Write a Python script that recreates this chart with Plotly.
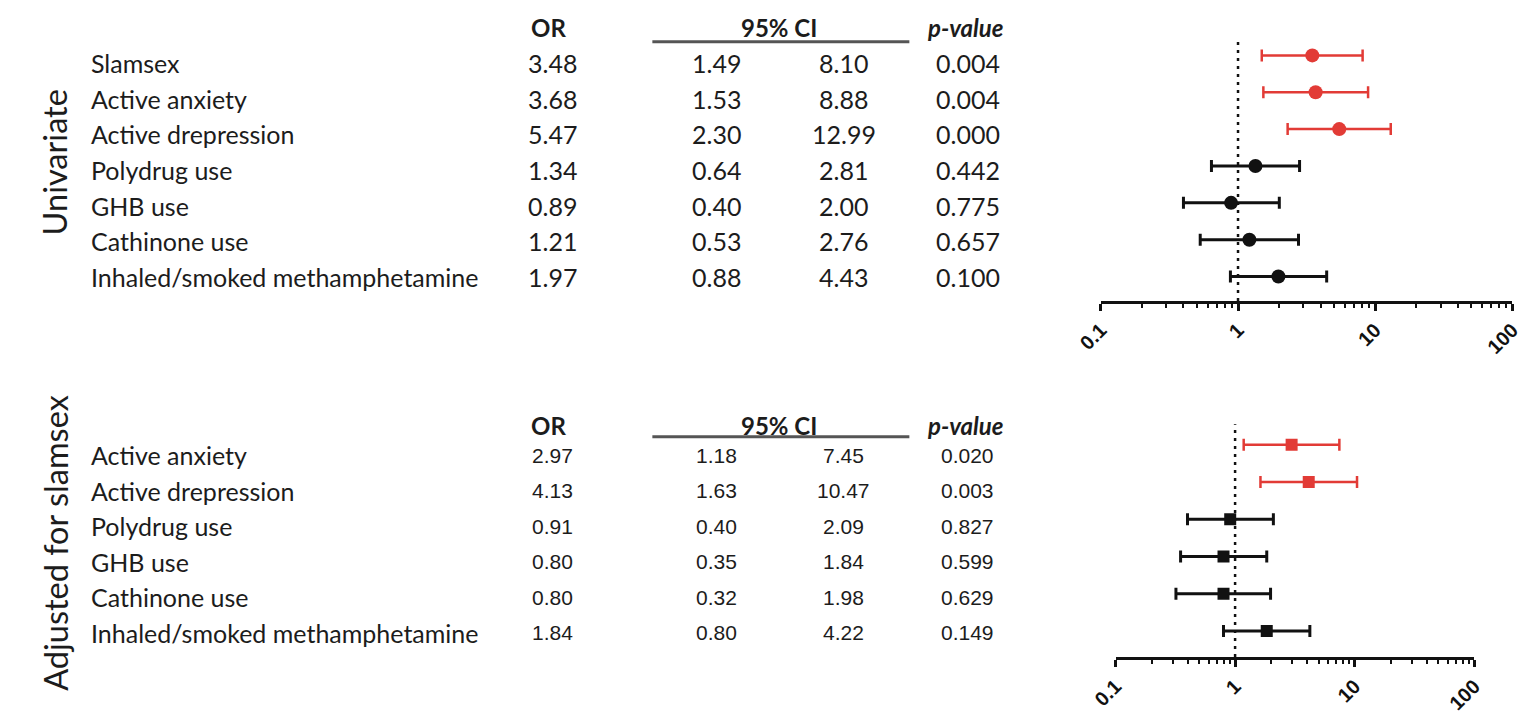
import plotly.graph_objects as go

W, H = 1535, 714

# ---- data: univariate model ----
uni_labels = ["Slamsex", "Active anxiety", "Active drepression", "Polydrug use",
              "GHB use", "Cathinone use", "Inhaled/smoked methamphetamine"]
uni_or = [3.48, 3.68, 5.47, 1.34, 0.89, 1.21, 1.97]
uni_lo = [1.49, 1.53, 2.30, 0.64, 0.40, 0.53, 0.88]
uni_hi = [8.10, 8.88, 12.99, 2.81, 2.00, 2.76, 4.43]
uni_p = [0.004, 0.004, 0.000, 0.442, 0.775, 0.657, 0.100]

# ---- data: model adjusted for slamsex ----
adj_labels = ["Active anxiety", "Active drepression", "Polydrug use",
              "GHB use", "Cathinone use", "Inhaled/smoked methamphetamine"]
adj_or = [2.97, 4.13, 0.91, 0.80, 0.80, 1.84]
adj_lo = [1.18, 1.63, 0.40, 0.35, 0.32, 0.80]
adj_hi = [7.45, 10.47, 2.09, 1.84, 1.98, 4.22]
adj_p = [0.020, 0.003, 0.827, 0.599, 0.629, 0.149]

axis_ticks = [0.1, 1, 10, 100]
axis_ticktext = ["0.1", "1", "10", "100"]
minor_ticks = [m * d for d in (0.1, 1, 10) for m in range(2, 10)]

RED = "#e23b36"
BLACK = "#111111"
TXT = "#1c1c1c"
LABEL_FONT = "Lato"
NUM_FONT_ADJ = "Liberation Sans"


def px(x):
    return x / W


def py(y):
    return 1 - y / H


fig = go.Figure()
annotations = []
shapes = []


def add_text(x, y, text, size, family=LABEL_FONT, anchor="center", angle=0):
    annotations.append(dict(
        x=px(x), y=py(y), xref="paper", yref="paper", text=text,
        showarrow=False, xanchor=anchor, yanchor="middle", textangle=angle,
        font=dict(family=family, size=size, color=TXT),
    ))


def add_table(header_y, rule_y, row0, step, labels, ors, los, his, ps, num_font, num_size):
    add_text(516, header_y, "<b>OR</b>", 24, anchor="left")
    add_text(772, header_y, "<b>95% CI</b>", 24)
    add_text(962, header_y, "<b><i>p-value</i></b>", 24)
    shapes.append(dict(type="line", xref="paper", yref="paper",
                       x0=px(642), x1=px(905), y0=py(rule_y), y1=py(rule_y),
                       line=dict(color="#555555", width=3)))
    for i, lab in enumerate(labels):
        y = row0 + step * i
        add_text(66, y, lab, 25, anchor="left")
        add_text(540, y, f"{ors[i]:.2f}", num_size, family=num_font)
        add_text(708, y, f"{los[i]:.2f}", num_size, family=num_font)
        add_text(838, y, f"{his[i]:.2f}", num_size, family=num_font)
        add_text(965, y, f"{ps[i]:.3f}", num_size, family=num_font)


add_table(28, 43, 65, 36.7, uni_labels, uni_or, uni_lo, uni_hi, uni_p, LABEL_FONT, 25)
add_table(438, 450, 469, 36.6, adj_labels, adj_or, adj_lo, adj_hi, adj_p, NUM_FONT_ADJ, 21)

add_text(30, 167, "Univariate", 32.5, angle=-90)
add_text(31, 559, "Adjusted for slamsex", 32.5, angle=-90)


def add_forest(xa, ya, ors, los, his, ps, symbol, msize):
    rows = list(range(len(ors)))
    for sig, color, thick in ((False, BLACK, 3), (True, RED, 2.5)):
        idx = [i for i in rows if (ps[i] < 0.05) == sig]
        fig.add_trace(go.Scatter(
            x=[ors[i] for i in idx], y=idx, mode="markers",
            xaxis=xa, yaxis=ya,
            marker=dict(symbol=symbol, size=msize, color=color),
            error_x=dict(type="data", symmetric=False,
                         array=[his[i] - ors[i] for i in idx],
                         arrayminus=[ors[i] - los[i] for i in idx],
                         color=color, thickness=thick, width=6),
            hoverinfo="skip",
        ))
    xref = "x" if xa == "x" else "x2"
    yref = "y domain" if ya == "y" else "y2 domain"
    shapes.append(dict(type="line", xref=xref, yref=yref, x0=1, x1=1, y0=0, y1=1,
                       line=dict(color=BLACK, width=2.5, dash="3px,5px"), layer="below"))


add_forest("x", "y", uni_or, uni_lo, uni_hi, uni_p, "circle", 14)
add_forest("x2", "y2", adj_or, adj_lo, adj_hi, adj_p, "square", 12)


def log_axis(domain, anchor):
    return dict(
        type="log", range=[-1, 2], domain=domain, anchor=anchor,
        showline=True, linecolor=BLACK, linewidth=2.5, showgrid=False, zeroline=False,
        ticks="outside", ticklen=7, tickwidth=2.5, tickcolor=BLACK,
        tickvals=axis_ticks, ticktext=axis_ticktext, tickangle=-45,
        tickfont=dict(family="Liberation Sans", size=20, color=BLACK, weight="bold"),
        minor=dict(tickvals=minor_ticks, ticks="outside", ticklen=4,
                   tickwidth=2, tickcolor=BLACK, showgrid=False),
        fixedrange=True,
    )


def row_axis(domain, rng, anchor):
    return dict(domain=domain, range=rng, anchor=anchor, visible=False,
                showgrid=False, zeroline=False, fixedrange=True)


fig.update_layout(
    width=W, height=H,
    margin=dict(l=0, r=0, t=0, b=0),
    paper_bgcolor="white", plot_bgcolor="white",
    showlegend=False,
    xaxis=log_axis([px(1101), px(1522)], "y"),
    yaxis=row_axis([py(310), py(43)], [6.66, -0.37], "x"),
    xaxis2=log_axis([px(1116), px(1483)], "y2"),
    yaxis2=row_axis([py(677), py(437)], [5.70, -0.55], "x2"),
    annotations=annotations,
    shapes=shapes,
)

fig.write_html("out.html")
